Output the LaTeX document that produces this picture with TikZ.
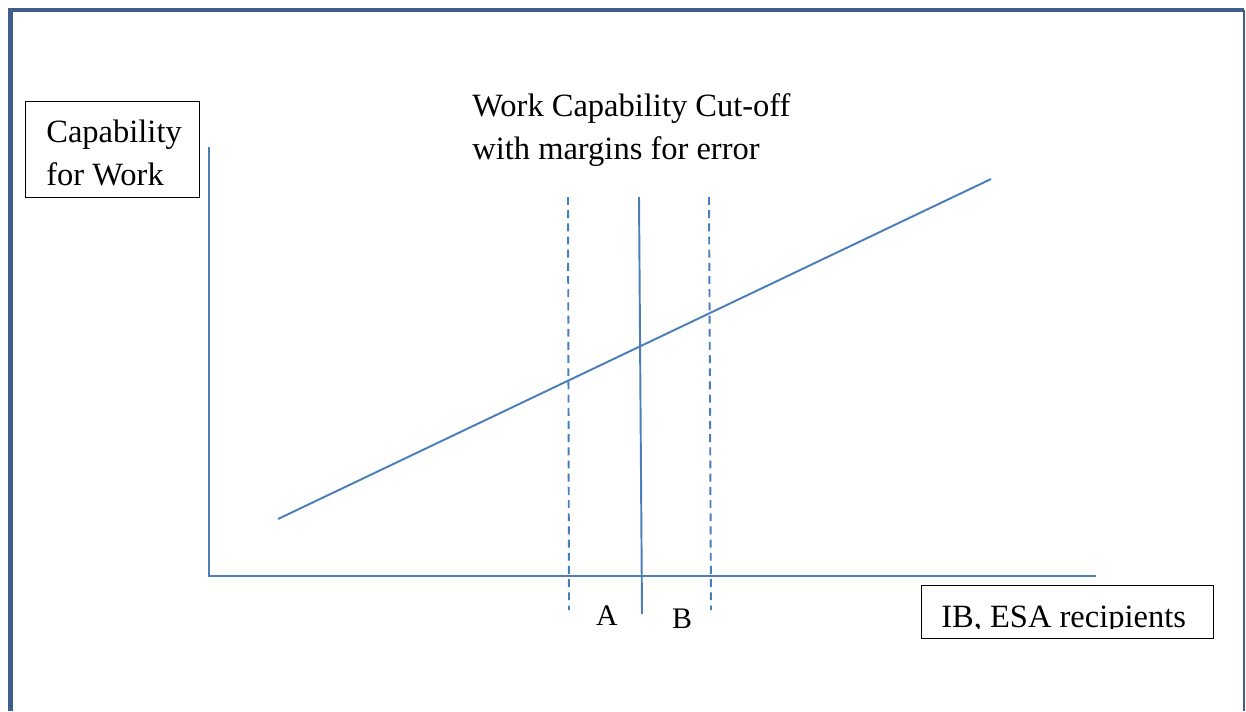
\documentclass[tikz,border=0pt]{standalone}
\usepackage{fontspec}
\setmainfont{Liberation Serif}
\usepackage{xcolor}
\usepackage{tikz}
\usetikzlibrary{positioning}
\definecolor{framebl}{HTML}{3F5F8A}
\definecolor{linebl}{HTML}{4A7EBB}
\tikzset{
  labelbox/.style={
    rectangle, draw=black, thick, fill=white,
    inner sep=0pt, anchor=north west
  },
  labeltext/.style={
    font=\fontsize{18.5}{24}\selectfont, inner sep=0pt,
    anchor=base west
  },
  plotline/.style={
    line width=1.1pt, color=linebl
  },
  marginline/.style={
    plotline, dash pattern=on 4.5pt off 3pt
  },
  letterlabel/.style={
    font=\fontsize{17}{20}\selectfont, inner sep=0pt, anchor=base
  },
}
\begin{document}
\begin{tikzpicture}[x=0.02cm, y=-0.02cm]
  \useasboundingbox (0,0) rectangle (1246,711);
  % page frame
  \draw[framebl, line width=2.6pt] (10.5,711) -- (10.5,10) -- (1244,10);
  \draw[framebl, line width=1.2pt] (1244,10) -- (1244,711);

  % axes
  \coordinate (orig) at (209,576);
  \coordinate (ytop) at (209,147);
  \coordinate (xend) at (1096,576);
  \draw[plotline] (ytop) -- (orig) -- (xend);

  % rising line
  \coordinate (lstart) at (278,519);
  \coordinate (lend) at (991,179);
  \draw[plotline] (lstart) -- (lend);

  % cut-off and margins
  \coordinate (cuttop) at (639,197);
  \coordinate (cutbot) at (642,614);
  \coordinate (atop) at (568,197);
  \coordinate (abot) at (569,610);
  \coordinate (btop) at (709,197);
  \coordinate (bbot) at (711,610);
  \draw[plotline] (cuttop) -- (cutbot);
  \draw[marginline] (atop) -- (abot);
  \draw[marginline] (btop) -- (bbot);

  \node[letterlabel] (lblA) at (607,625) {A};
  \node[letterlabel] (lblB) at (682,628) {B};

  % text boxes
  \node[labelbox, minimum width=174*0.02cm, minimum height=96*0.02cm]
    (ybox) at (25,101) {};
  \node[labeltext] (ylbl1) at (46,142) {Capability};
  \node[labeltext] (ylbl2) at (46,185) {for Work};

  \node[labelbox, minimum width=292*0.02cm, minimum height=53*0.02cm]
    (xbox) at (921,585) {};
  \begin{scope}
    \clip (921,585) rectangle (1213,628.5);
    \node[labeltext] (xlbl) at (941,627) {IB, ESA recipients};
  \end{scope}

  \node[labeltext] (title1) at (472,116.5) {Work Capability Cut-off};
  \node[labeltext] (title2) at (472,159.5) {with margins for error};
\end{tikzpicture}
\end{document}
